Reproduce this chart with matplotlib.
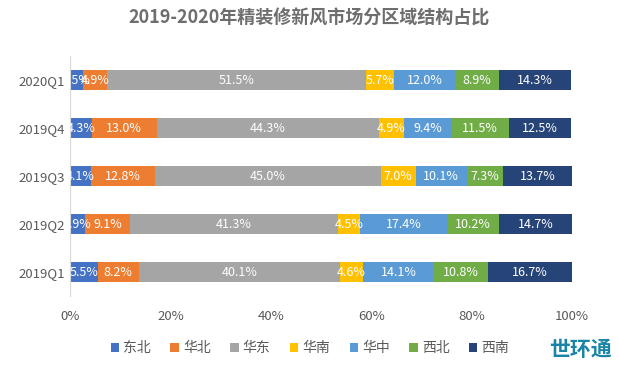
import matplotlib
matplotlib.use('Agg')
import matplotlib.pyplot as plt
import numpy as np

plt.rcParams['font.family'] = ['Noto Sans CJK SC', 'DejaVu Sans']

quarters = ['2019Q1', '2019Q2', '2019Q3', '2019Q4', '2020Q1']
regions = ['东北', '华北', '华东', '华南', '华中', '西北', '西南']
colors = ['#4472C4', '#ED7D31', '#A5A5A5', '#FFC000', '#5B9BD5', '#70AD47', '#264478']

dongbei = [5.5, 2.9, 4.1, 4.3, 2.5]
huabei = [8.2, 9.1, 12.8, 13.0, 4.9]
huadong = [40.1, 41.3, 45.0, 44.3, 51.5]
huanan = [4.6, 4.5, 7.0, 4.9, 5.7]
huazhong = [14.1, 17.4, 10.1, 9.4, 12.0]
xibei = [10.8, 10.2, 7.3, 11.5, 8.9]
xinan = [16.7, 14.7, 13.7, 12.5, 14.3]
series = [dongbei, huabei, huadong, huanan, huazhong, xibei, xinan]

fig = plt.figure(figsize=(6.19, 3.70), dpi=100)
ax = fig.add_axes([70 / 619, 1 - 296 / 370, 502 / 619, 240 / 370])

y = np.arange(len(quarters))
left = np.zeros(len(quarters))
for name, vals, c in zip(regions, series, colors):
    vals = np.array(vals)
    ax.barh(y, vals, left=left, height=0.42, color=c, label=name)
    for yi, l, v in zip(y, left, vals):
        # clip_on: labels sticking out past the y axis get cut, like the original
        ax.text(l + v / 2, yi, f'{v:.1f}%', ha='center', va='center',
                color='white', fontsize=9, clip_on=True)
    left = left + vals

ax.set_xlim(0, 100)
ax.set_ylim(-0.5, 4.5)
ax.set_yticks(y)
ax.set_yticklabels(quarters)
ax.set_xticks([0, 20, 40, 60, 80, 100])
ax.set_xticklabels([f'{t}%' for t in [0, 20, 40, 60, 80, 100]])
ax.tick_params(axis='both', length=0, colors='#595959', labelsize=9.5)
ax.tick_params(axis='x', pad=10)
for s in ['top', 'right', 'bottom']:
    ax.spines[s].set_visible(False)
ax.spines['left'].set_color('#D9D9D9')

fig.text(0.5, 1 - 18 / 370, '2019-2020年精装修新风市场分区域结构占比', ha='center',
         va='center', fontsize=13, fontweight='bold', color='#6E6E6E')

fig.legend(loc='center', bbox_to_anchor=(310 / 619, 1 - 348 / 370), ncol=7,
           frameon=False, fontsize=10, handlelength=0.6, handleheight=0.6,
           columnspacing=1.4, handletextpad=0.3, labelcolor='#595959')

fig.text(612 / 619, 1 - 350 / 370, '世环通', ha='right', va='center',
         fontsize=15, fontweight='bold', color='#1A84A6')

fig.savefig('out.png', dpi=100)
